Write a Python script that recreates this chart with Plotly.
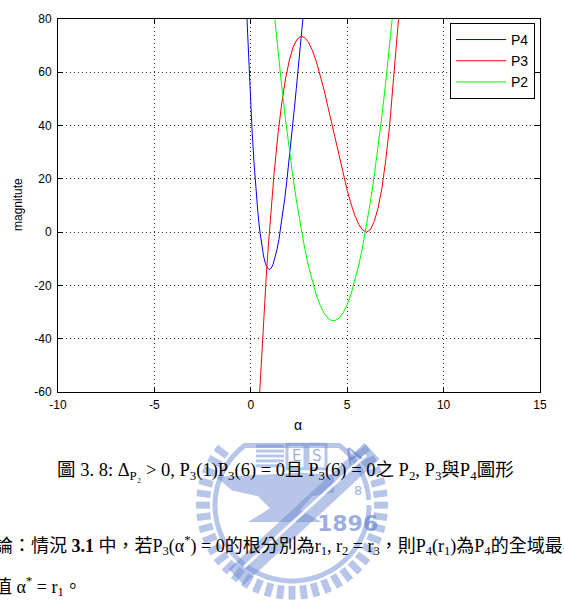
import math
import plotly.graph_objects as go

# ---------------- data ----------------
alpha_p4 = [-0.24, -0.14, -0.04, 0.06, 0.16, 0.26, 0.36, 0.46, 0.56, 0.66, 0.76, 0.86,
            0.96, 1.06, 1.16, 1.26, 1.36, 1.46, 1.56, 1.66, 1.76, 1.86, 1.96, 2.06,
            2.16, 2.26, 2.36, 2.46, 2.56, 2.66, 2.76]
p4 = [87.0, 68.9, 52.9, 38.9, 26.8, 16.5, 7.9, 0.8, -4.8, -8.9, -11.8, -13.5,
      -14.0, -13.5, -12.0, -9.7, -6.5, -2.7, 1.9, 7.0, 12.6, 18.7, 25.2, 32.0,
      39.1, 46.4, 53.9, 61.5, 69.1, 76.8, 84.5]

alpha_p3 = [0.4, 0.5, 0.6, 0.7, 0.8, 0.9, 1.0, 1.2, 1.4, 1.6, 1.8, 2.0, 2.2, 2.4, 2.6,
            2.8, 3.0, 3.2, 3.4, 3.6, 3.8, 4.0, 4.2, 4.4, 4.6, 4.8, 5.0, 5.2, 5.4,
            5.6, 5.8, 6.0, 6.2, 6.4, 6.6, 6.8, 7.0, 7.2, 7.4, 7.6, 7.8]
p3 = [-68.1, -54.0, -40.7, -28.3, -16.8, -6.0, 3.9, 21.4, 36.1, 48.1, 57.5, 64.6,
      69.5, 72.4, 73.5, 73.1, 71.2, 68.1, 64.0, 59.0, 53.4, 47.1, 40.7, 34.1, 27.6,
      21.4, 15.7, 10.6, 6.2, 2.9, 0.8, 0.0, 0.9, 4.0, 9.0, 16.5, 27.0, 40.0, 58.0,
      73.0, 92.0]

alpha_p2 = [1.2, 1.4, 1.6, 1.8, 2.0, 2.2, 2.4, 2.6, 2.8, 3.0, 3.2, 3.4, 3.6, 3.8,
            4.0, 4.2, 4.4, 4.6, 4.8, 5.0, 5.2, 5.4, 5.6, 5.8, 6.0, 6.2, 6.4, 6.6,
            6.8, 7.0, 7.2, 7.4]
p2 = [83.2, 68.6, 55.0, 42.3, 30.7, 20.0, 10.3, 1.5, -6.2, -13.0, -18.8, -23.6,
      -27.5, -30.4, -32.3, -33.2, -33.1, -32.1, -30.1, -27.2, -23.2, -18.3, -12.4,
      -5.5, 2.4, 11.2, 21.0, 31.8, 43.6, 56.3, 70.0, 84.7]

x_ticks = [-10, -5, 0, 5, 10, 15]
x_labels = ["-10", "-5", "0", "5", "10", "15"]
y_ticks = [-60, -40, -20, 0, 20, 40, 60, 80]
y_labels = ["-60", "-40", "-20", "0", "20", "40", "60", "80"]

# ---------------- layout geometry ----------------
W, H = 564, 606
L, R, T, B = 58, 540, 13, 392   # plot area in pixels


def px(x):
    return (x - L) / (R - L)


def py(y):
    return (B - y) / (B - T)


fig = go.Figure()
fig.add_trace(go.Scatter(x=alpha_p4, y=p4, mode="lines", name="P4",
                         line=dict(color="#0000ff", width=1)))
fig.add_trace(go.Scatter(x=alpha_p3, y=p3, mode="lines", name="P3",
                         line=dict(color="#ff0000", width=1)))
fig.add_trace(go.Scatter(x=alpha_p2, y=p2, mode="lines", name="P2",
                         line=dict(color="#00ff00", width=1)))

sans = "Liberation Sans, Arial, sans-serif"
axis_common = dict(
    showline=True, linecolor="black", linewidth=1, mirror="ticks",
    ticks="inside", ticklen=5, tickcolor="black", tickwidth=1,
    showgrid=True, gridcolor="rgba(0,0,0,0.8)", gridwidth=1, griddash="1px,3px",
    zeroline=False,
    tickfont=dict(family=sans, size=12, color="black"),
)

fig.update_layout(
    width=W, height=H,
    margin=dict(l=L, r=W - R, t=T, b=H - B, pad=0),
    paper_bgcolor="white", plot_bgcolor="white",
    xaxis=dict(range=[-10, 15], tickvals=x_ticks, ticktext=x_labels,
               ticklabelstandoff=2, **axis_common),
    yaxis=dict(range=[-60, 80], tickvals=y_ticks, ticktext=y_labels,
               ticklabelstandoff=3, **axis_common),
    legend=dict(
        x=px(535), xanchor="right", y=py(17), yanchor="top",
        bgcolor="white", bordercolor="black", borderwidth=1,
        font=dict(family=sans, size=14, color="black"),
        itemwidth=50, tracegroupgap=0,
    ),
    showlegend=True,
)

# ---------------- watermark logo (decorative) ----------------
logo = "rgba(110,140,210,0.5)"
cx, cy = 292, 507
clip_y = 445
shapes = []
for k in range(48):
    a = 2 * math.pi * k / 48
    x0, y0 = cx + 82 * math.cos(a), cy + 82 * math.sin(a)
    x1, y1 = cx + 96 * math.cos(a), cy + 96 * math.sin(a)
    if min(y0, y1) < clip_y:
        continue
    shapes.append(dict(type="line", xref="paper", yref="paper",
                       x0=px(x0), y0=py(y0), x1=px(x1), y1=py(y1),
                       line=dict(color=logo, width=7), layer="below"))
seg = []
for k in range(0, 361, 4):
    a = math.radians(k)
    x, y = cx + 77 * math.cos(a), cy + 77 * math.sin(a)
    if y >= clip_y:
        seg.append((x, y))
if seg:
    seg_sorted = sorted(seg, key=lambda p: math.atan2(p[1] - cy, p[0] - cx) % (2 * math.pi))
    d = "M " + " L ".join(f"{px(x):.5f},{py(y):.5f}" for x, y in seg_sorted)
    shapes.append(dict(type="path", xref="paper", yref="paper", path=d,
                       line=dict(color=logo, width=5), layer="below"))
for i in range(5):
    yy = 447 + i * 5
    shapes.append(dict(type="line", xref="paper", yref="paper",
                       x0=px(256), y0=py(yy), x1=px(284), y1=py(yy),
                       line=dict(color=logo, width=3), layer="below"))
for bx in (287, 308):
    shapes.append(dict(type="rect", xref="paper", yref="paper",
                       x0=px(bx), y0=py(470), x1=px(bx + 18), y1=py(445),
                       line=dict(color=logo, width=3), fillcolor="rgba(0,0,0,0)",
                       layer="below"))
anvil = [(216, 478), (262, 476), (300, 474), (334, 476), (334, 494), (312, 498),
         (300, 512), (322, 524), (248, 524), (270, 510), (258, 498), (232, 492)]
d = "M " + " L ".join(f"{px(x):.5f},{py(y):.5f}" for x, y in anvil) + " Z"
shapes.append(dict(type="path", xref="paper", yref="paper", path=d,
                   fillcolor=logo, line=dict(width=0), layer="below"))
shapes.append(dict(type="line", xref="paper", yref="paper",
                   x0=px(236), y0=py(580), x1=px(372), y1=py(452),
                   line=dict(color=logo, width=22), layer="below"))
shapes.append(dict(type="line", xref="paper", yref="paper",
                   x0=px(244), y0=py(570), x1=px(366), y1=py(456),
                   line=dict(color="rgba(255,255,255,0.9)", width=3), layer="below"))
fig.update_layout(shapes=shapes)

serif = "Liberation Serif, Times New Roman, Noto Sans CJK TC, serif"
logo_txt = "rgba(90,120,200,0.6)"
ann = [
    dict(text="magnitute", x=px(18), y=py(202), textangle=-90,
         font=dict(family=sans, size=12, color="black")),
    dict(text="α", x=px(298), y=py(426),
         font=dict(family=sans, size=14, color="black")),
    dict(text="<b>1896</b>", x=px(347), y=py(526),
         font=dict(family="DejaVu Sans, sans-serif", size=22, color=logo_txt)),
    dict(text="A", x=px(352), y=py(457), textangle=-30,
         font=dict(family="DejaVu Sans, sans-serif", size=22, color=logo_txt)),
    dict(text="8", x=px(358), y=py(492),
         font=dict(family="DejaVu Sans, sans-serif", size=13, color=logo_txt)),
    dict(text="E", x=px(296), y=py(457),
         font=dict(family="DejaVu Sans, sans-serif", size=15, color=logo_txt)),
    dict(text="S", x=px(317), y=py(457),
         font=dict(family="DejaVu Sans, sans-serif", size=15, color=logo_txt)),
    dict(text="圖 3. 8: Δ<sub>P₂</sub> > 0, P<sub>3</sub>(1)P<sub>3</sub>(6) = 0且 "
              "P<sub>3</sub>(6) = 0之 P<sub>2</sub>, P<sub>3</sub>與P<sub>4</sub>圖形",
         x=px(285), y=py(473),
         font=dict(family=serif, size=18.5, color="black")),
    dict(text="論：情況 <b>3.1</b> 中，若P<sub>3</sub>(α<sup>*</sup>) = 0的根分別為r<sub>1</sub>, "
              "r<sub>2</sub> = r<sub>3</sub>，則P<sub>4</sub>(r<sub>1</sub>)為P<sub>4</sub>的全域最小值",
         x=px(-7), y=py(548), xanchor="left",
         font=dict(family=serif, size=18, color="black")),
    dict(text="值 α<sup>*</sup> = r<sub>1</sub>。",
         x=px(-8), y=py(590), xanchor="left",
         font=dict(family=serif, size=18, color="black")),
]
for a in ann:
    a.setdefault("xanchor", "center")
    a.setdefault("yanchor", "middle")
    a.update(xref="paper", yref="paper", showarrow=False)
fig.update_layout(annotations=ann)

fig.write_html("out.html")
